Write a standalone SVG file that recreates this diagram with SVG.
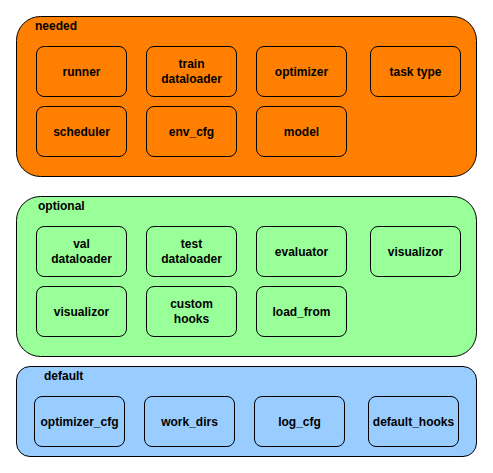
<svg xmlns="http://www.w3.org/2000/svg" width="493" height="473" viewBox="0 0 493 473">
<style>
.c{stroke:#000;stroke-width:1}
.n{stroke:#000;stroke-width:1}
.t{font-family:"Liberation Sans",Arial,sans-serif;font-size:12px;font-weight:bold;fill:#000;text-anchor:middle}
.h{font-family:"Liberation Sans",Arial,sans-serif;font-size:12px;font-weight:bold;fill:#000}
</style>
<rect width="493" height="473" fill="#fff"/>
<g id="needed">
<rect class="c" x="16.5" y="16.5" width="460" height="160" rx="24" fill="#FF8000"/>
<text class="h" x="35" y="30">needed</text>
</g>
<g id="optional">
<rect class="c" x="16.5" y="196.5" width="460" height="160" rx="24" fill="#99FF99"/>
<text class="h" x="38" y="210">optional</text>
</g>
<g id="default">
<rect class="c" x="16.5" y="366.5" width="460" height="90" rx="13.5" fill="#99CCFF"/>
<text class="h" x="44" y="380">default</text>
</g>
<g id="runner"><rect class="n" x="36.5" y="46.5" width="90" height="50" rx="7.5" fill="#FF8000"/><text class="t" x="81.5" y="75.5">runner</text></g>
<g id="train_dataloader"><rect class="n" x="146.5" y="46.5" width="90" height="50" rx="7.5" fill="#FF8000"/><text class="t" x="191.5" y="68">train</text><text class="t" x="191.5" y="83">dataloader</text></g>
<g id="optimizer"><rect class="n" x="256.5" y="46.5" width="90" height="50" rx="7.5" fill="#FF8000"/><text class="t" x="301.5" y="75.5">optimizer</text></g>
<g id="task_type"><rect class="n" x="370.5" y="46.5" width="90" height="50" rx="7.5" fill="#FF8000"/><text class="t" x="415.5" y="75.5">task type</text></g>
<g id="scheduler"><rect class="n" x="36.5" y="106.5" width="90" height="50" rx="7.5" fill="#FF8000"/><text class="t" x="81.5" y="135.5">scheduler</text></g>
<g id="env_cfg"><rect class="n" x="146.5" y="106.5" width="90" height="50" rx="7.5" fill="#FF8000"/><text class="t" x="191.5" y="135.5">env_cfg</text></g>
<g id="model"><rect class="n" x="256.5" y="106.5" width="90" height="50" rx="7.5" fill="#FF8000"/><text class="t" x="301.5" y="135.5">model</text></g>
<g id="val_dataloader"><rect class="n" x="36.5" y="226.5" width="90" height="50" rx="7.5" fill="#99FF99"/><text class="t" x="81.5" y="248">val</text><text class="t" x="81.5" y="263">dataloader</text></g>
<g id="test_dataloader"><rect class="n" x="146.5" y="226.5" width="90" height="50" rx="7.5" fill="#99FF99"/><text class="t" x="191.5" y="248">test</text><text class="t" x="191.5" y="263">dataloader</text></g>
<g id="evaluator"><rect class="n" x="256.5" y="226.5" width="90" height="50" rx="7.5" fill="#99FF99"/><text class="t" x="301.5" y="255.5">evaluator</text></g>
<g id="visualizor1"><rect class="n" x="370.5" y="226.5" width="90" height="50" rx="7.5" fill="#99FF99"/><text class="t" x="415.5" y="255.5">visualizor</text></g>
<g id="visualizor2"><rect class="n" x="36.5" y="286.5" width="90" height="50" rx="7.5" fill="#99FF99"/><text class="t" x="81.5" y="315.5">visualizor</text></g>
<g id="custom_hooks"><rect class="n" x="146.5" y="286.5" width="90" height="50" rx="7.5" fill="#99FF99"/><text class="t" x="191.5" y="308">custom</text><text class="t" x="191.5" y="323">hooks</text></g>
<g id="load_from"><rect class="n" x="256.5" y="286.5" width="90" height="50" rx="7.5" fill="#99FF99"/><text class="t" x="301.5" y="315.5">load_from</text></g>
<g id="optimizer_cfg"><rect class="n" x="34.5" y="396.5" width="90" height="50" rx="7.5" fill="#99CCFF"/><text class="t" x="79.5" y="425.5">optimizer_cfg</text></g>
<g id="work_dirs"><rect class="n" x="144.5" y="396.5" width="90" height="50" rx="7.5" fill="#99CCFF"/><text class="t" x="189.5" y="425.5">work_dirs</text></g>
<g id="log_cfg"><rect class="n" x="254.5" y="396.5" width="90" height="50" rx="7.5" fill="#99CCFF"/><text class="t" x="299.5" y="425.5">log_cfg</text></g>
<g id="default_hooks"><rect class="n" x="368.5" y="396.5" width="90" height="50" rx="7.5" fill="#99CCFF"/><text class="t" x="413.5" y="425.5">default_hooks</text></g>
<g id="connectors"></g>
</svg>
